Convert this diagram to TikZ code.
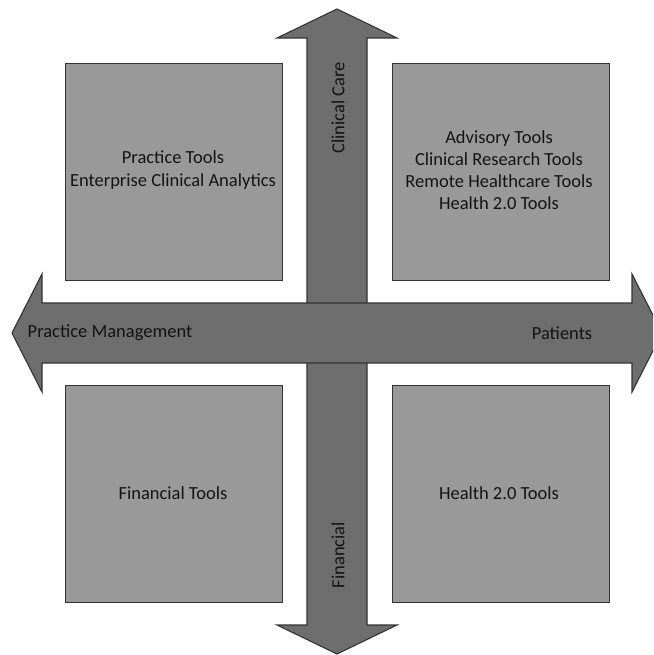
\documentclass[tikz,border=0pt]{standalone}
\usepackage{fontspec}
\setmainfont{Carlito}
\definecolor{boxfill}{HTML}{999999}
\definecolor{arrowfill}{HTML}{6E6E6E}
\definecolor{edge}{HTML}{333333}
\definecolor{ink}{HTML}{141414}
\begin{document}
\begin{tikzpicture}[x=1pt,y=-1pt,
  quad/.style={draw=edge,line width=1.2pt,fill=boxfill,minimum width=217pt,minimum height=217pt,inner sep=0pt,anchor=north west},
  axis/.style={draw=edge,line width=1.1pt,fill=arrowfill,line join=miter},
  label/.style={text=ink,font=\fontsize{18.5}{23}\selectfont,align=center,inner sep=0pt}]
\useasboundingbox (0,0) rectangle (653,655);
\clip (0,0) rectangle (653,655);
% quadrant boxes
\node[quad] (tl) at (65,63) {};
\node[quad] (tr) at (392,63) {};
\node[quad] (bl) at (65,385) {};
\node[quad] (br) at (392,385) {};
% vertical double arrow
\draw[axis] (337,9) -- (397,38) -- (367,38) -- (367,625) -- (397,625) -- (337,654)
  -- (277,625) -- (307,625) -- (307,38) -- (277,38) -- cycle;
% horizontal double arrow
\draw[axis] (12,333) -- (42,274) -- (42,303) -- (632,303) -- (632,274) -- (662,333)
  -- (632,392) -- (632,363) -- (42,363) -- (42,392) -- cycle;
% quadrant texts
\node[label] (tltext) at (173,170) {Practice Tools\\Enterprise Clinical Analytics};
\node[label,font=\fontsize{18.5}{22}\selectfont] (trtext) at (499,170) {Advisory Tools\\Clinical Research Tools\\Remote Healthcare Tools\\Health 2.0 Tools};
\node[label] (bltext) at (173,493) {Financial Tools};
\node[label] (brtext) at (499,493) {Health 2.0 Tools};
% axis labels
\node[label,rotate=90] (care) at (338,108) {Clinical Care};
\node[label,rotate=90] (fin) at (338,555) {Financial};
\node[label] (pm) at (110,333) {Practice Management};
\node[label] (pat) at (562,333) {Patients};
\end{tikzpicture}
\end{document}
